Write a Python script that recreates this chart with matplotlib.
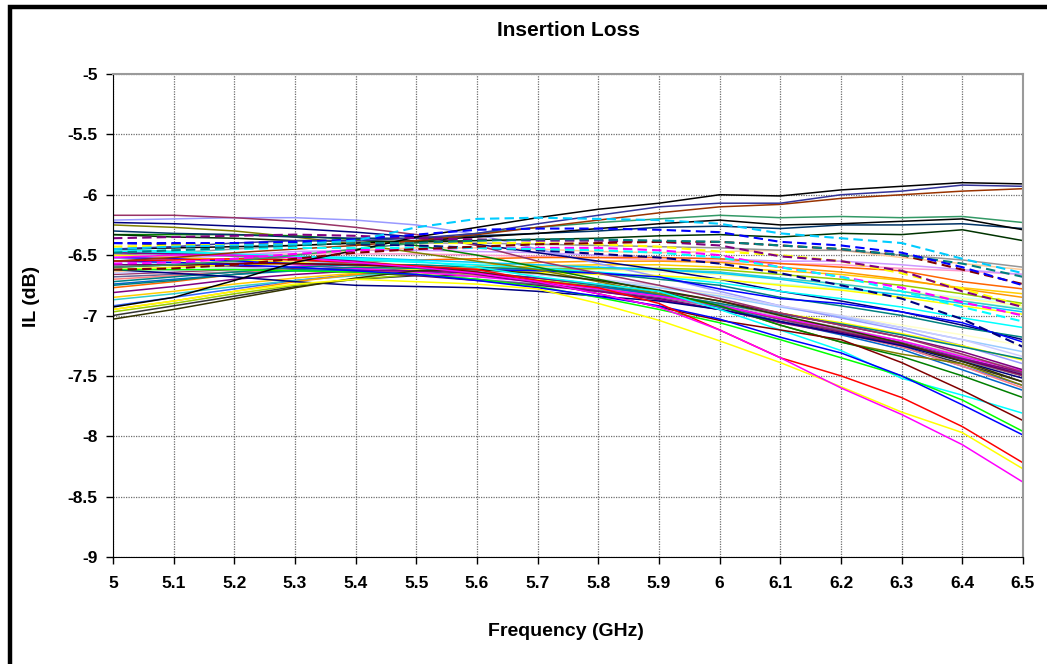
import matplotlib
matplotlib.use('Agg')
from matplotlib import pyplot as plt
from matplotlib.patches import Rectangle

# frequency points (GHz)
freq = [5.0, 5.1, 5.2, 5.3, 5.4, 5.5, 5.6, 5.7, 5.8, 5.9, 6.0, 6.1, 6.2, 6.3, 6.4, 6.5]
x_ticks = freq
x_labels = ['5', '5.1', '5.2', '5.3', '5.4', '5.5', '5.6', '5.7', '5.8', '5.9',
            '6', '6.1', '6.2', '6.3', '6.4', '6.5']
y_ticks = [-5, -5.5, -6, -6.5, -7, -7.5, -8, -8.5, -9]
y_labels = ['-5', '-5.5', '-6', '-6.5', '-7', '-7.5', '-8', '-8.5', '-9']

# insertion loss (dB) per measured part, read off the picture
# top, rising group
il_black_top = [-6.93, -6.85, -6.71, -6.56, -6.46, -6.35, -6.27, -6.19, -6.12, -6.07, -6.00, -6.01, -5.96, -5.93, -5.90, -5.91]
il_indigo = [-6.45, -6.43, -6.40, -6.38, -6.38, -6.36, -6.32, -6.24, -6.17, -6.10, -6.07, -6.07, -6.00, -5.97, -5.92, -5.93]
il_brown = [-6.55, -6.52, -6.48, -6.45, -6.42, -6.38, -6.33, -6.27, -6.21, -6.15, -6.10, -6.08, -6.03, -6.00, -5.97, -5.95]
# flat group
il_seagreen = [-6.60, -6.58, -6.55, -6.50, -6.45, -6.40, -6.32, -6.27, -6.23, -6.20, -6.17, -6.19, -6.18, -6.19, -6.18, -6.23]
il_darkteal = [-6.30, -6.32, -6.33, -6.35, -6.36, -6.36, -6.34, -6.32, -6.30, -6.27, -6.26, -6.28, -6.25, -6.25, -6.24, -6.28]
il_black_flat = [-6.45, -6.44, -6.43, -6.42, -6.40, -6.38, -6.35, -6.32, -6.28, -6.24, -6.21, -6.25, -6.24, -6.22, -6.20, -6.29]
il_darkgreen = [-6.33, -6.35, -6.36, -6.38, -6.38, -6.39, -6.38, -6.37, -6.36, -6.34, -6.33, -6.35, -6.32, -6.33, -6.29, -6.38]
# dashed group
il_cyan_dash = [-6.45, -6.43, -6.42, -6.41, -6.38, -6.27, -6.20, -6.19, -6.20, -6.21, -6.24, -6.32, -6.36, -6.40, -6.53, -6.65]
il_blue_dash = [-6.40, -6.40, -6.40, -6.39, -6.37, -6.33, -6.29, -6.28, -6.28, -6.29, -6.31, -6.39, -6.42, -6.48, -6.60, -6.75]
il_teal_dash = [-6.48, -6.46, -6.44, -6.42, -6.40, -6.40, -6.38, -6.37, -6.37, -6.38, -6.39, -6.42, -6.45, -6.50, -6.57, -6.68]
il_darkred_dash = [-6.62, -6.61, -6.58, -6.53, -6.48, -6.45, -6.43, -6.41, -6.40, -6.39, -6.39, -6.42, -6.45, -6.50, -6.62, -6.74]
il_purple_dash = [-6.36, -6.35, -6.34, -6.33, -6.34, -6.36, -6.37, -6.38, -6.38, -6.39, -6.42, -6.51, -6.55, -6.63, -6.80, -6.93]
il_magenta_dash = [-6.57, -6.56, -6.53, -6.49, -6.46, -6.45, -6.44, -6.44, -6.44, -6.46, -6.50, -6.60, -6.68, -6.77, -6.89, -7.00]
il_yellow_dash = [-6.43, -6.42, -6.41, -6.41, -6.40, -6.40, -6.40, -6.40, -6.41, -6.43, -6.47, -6.50, -6.55, -6.65, -6.78, -6.92]
il_navy_dash = [-6.40, -6.41, -6.41, -6.40, -6.41, -6.42, -6.44, -6.46, -6.49, -6.52, -6.57, -6.65, -6.75, -6.86, -7.03, -7.26]
il_sky_dash = [-6.47, -6.46, -6.45, -6.44, -6.44, -6.44, -6.44, -6.45, -6.46, -6.48, -6.52, -6.60, -6.68, -6.80, -6.93, -7.05]
# upper middle
il_gray40 = [-6.50, -6.48, -6.45, -6.42, -6.40, -6.40, -6.40, -6.41, -6.42, -6.43, -6.44, -6.46, -6.46, -6.50, -6.54, -6.60]
il_tan = [-6.64, -6.60, -6.55, -6.50, -6.46, -6.44, -6.44, -6.45, -6.47, -6.48, -6.47, -6.46, -6.46, -6.52, -6.57, -6.62]
il_lavender = [-6.55, -6.53, -6.50, -6.47, -6.46, -6.46, -6.47, -6.48, -6.50, -6.52, -6.53, -6.55, -6.55, -6.58, -6.62, -6.66]
il_rose = [-6.52, -6.51, -6.50, -6.49, -6.49, -6.49, -6.50, -6.51, -6.52, -6.54, -6.55, -6.57, -6.58, -6.61, -6.63, -6.66]
il_orange = [-6.77, -6.72, -6.66, -6.60, -6.56, -6.54, -6.53, -6.52, -6.52, -6.52, -6.53, -6.57, -6.60, -6.63, -6.72, -6.78]
il_lightorange = [-6.95, -6.88, -6.80, -6.72, -6.66, -6.62, -6.59, -6.56, -6.55, -6.55, -6.56, -6.60, -6.64, -6.70, -6.78, -6.85]
il_gold = [-6.85, -6.80, -6.74, -6.69, -6.65, -6.63, -6.61, -6.59, -6.58, -6.58, -6.60, -6.63, -6.66, -6.71, -6.77, -6.82]
il_lime = [-6.97, -6.90, -6.82, -6.75, -6.70, -6.66, -6.64, -6.62, -6.61, -6.61, -6.62, -6.66, -6.70, -6.75, -6.82, -6.90]
il_aqua = [-6.87, -6.82, -6.76, -6.71, -6.67, -6.64, -6.62, -6.61, -6.61, -6.62, -6.64, -6.69, -6.74, -6.80, -6.88, -6.95]
il_sky = [-6.48, -6.49, -6.50, -6.51, -6.52, -6.54, -6.56, -6.58, -6.60, -6.62, -6.65, -6.70, -6.77, -6.83, -6.90, -6.97]
il_lightyellow = [-6.55, -6.55, -6.56, -6.57, -6.58, -6.59, -6.60, -6.61, -6.62, -6.64, -6.66, -6.70, -6.74, -6.80, -6.86, -6.92]
il_lightgreen = [-6.60, -6.60, -6.60, -6.60, -6.61, -6.62, -6.63, -6.64, -6.66, -6.68, -6.71, -6.74, -6.78, -6.83, -6.88, -6.94]
il_lightturq = [-6.50, -6.50, -6.51, -6.52, -6.53, -6.55, -6.57, -6.59, -6.61, -6.63, -6.66, -6.70, -6.75, -6.80, -6.85, -6.90]
il_yellow_up = [-6.62, -6.60, -6.58, -6.57, -6.58, -6.60, -6.62, -6.64, -6.66, -6.67, -6.70, -6.75, -6.79, -6.85, -6.92, -6.99]
# middle bundle
il_teal = [-6.72, -6.68, -6.64, -6.60, -6.58, -6.58, -6.60, -6.62, -6.65, -6.70, -6.75, -6.85, -6.92, -7.00, -7.10, -7.18]
il_blue_mid = [-6.52, -6.53, -6.55, -6.57, -6.58, -6.60, -6.62, -6.63, -6.65, -6.68, -6.78, -6.86, -6.90, -6.97, -7.06, -7.22]
il_periwinkle = [-6.65, -6.63, -6.61, -6.60, -6.60, -6.61, -6.63, -6.66, -6.70, -6.75, -6.82, -6.92, -7.00, -7.10, -7.20, -7.34]
il_yellow_mid = [-6.50, -6.52, -6.54, -6.56, -6.59, -6.62, -6.66, -6.70, -6.75, -6.80, -6.88, -6.98, -7.06, -7.15, -7.25, -7.37]
il_violet = [-6.81, -6.76, -6.70, -6.66, -6.63, -6.63, -6.65, -6.69, -6.74, -6.80, -6.88, -6.98, -7.08, -7.18, -7.30, -7.45]
il_darkviolet = [-6.58, -6.58, -6.59, -6.61, -6.64, -6.67, -6.71, -6.75, -6.80, -6.86, -6.95, -7.05, -7.14, -7.24, -7.36, -7.49]
il_plum = [-6.17, -6.17, -6.19, -6.22, -6.27, -6.33, -6.42, -6.55, -6.65, -6.75, -6.86, -6.98, -7.08, -7.18, -7.32, -7.47]
il_lightblue = [-6.21, -6.20, -6.19, -6.19, -6.21, -6.25, -6.33, -6.45, -6.57, -6.68, -6.80, -6.92, -7.02, -7.12, -7.25, -7.40]
il_salmon = [-6.70, -6.67, -6.64, -6.62, -6.62, -6.64, -6.67, -6.71, -6.77, -6.84, -6.93, -7.05, -7.15, -7.26, -7.42, -7.60]
il_ocean = [-6.74, -6.70, -6.66, -6.63, -6.62, -6.63, -6.66, -6.70, -6.76, -6.83, -6.93, -7.05, -7.16, -7.28, -7.45, -7.62]
il_gray50 = [-6.47, -6.49, -6.51, -6.54, -6.57, -6.61, -6.66, -6.71, -6.77, -6.84, -6.92, -7.03, -7.13, -7.24, -7.37, -7.50]
il_silver = [-6.46, -6.47, -6.49, -6.52, -6.55, -6.59, -6.64, -6.69, -6.75, -6.82, -6.90, -7.01, -7.10, -7.21, -7.33, -7.45]
il_royal = [-6.92, -6.85, -6.78, -6.71, -6.66, -6.64, -6.65, -6.69, -6.75, -6.82, -6.91, -7.03, -7.14, -7.26, -7.42, -7.58]
il_olive = [-6.25, -6.27, -6.30, -6.35, -6.41, -6.48, -6.55, -6.62, -6.72, -6.82, -6.92, -7.08, -7.22, -7.32, -7.40, -7.58]
il_green = [-6.33, -6.33, -6.33, -6.34, -6.37, -6.42, -6.50, -6.60, -6.70, -6.80, -6.92, -7.08, -7.22, -7.34, -7.50, -7.68]
il_navy = [-6.62, -6.65, -6.68, -6.72, -6.75, -6.76, -6.77, -6.80, -6.84, -6.88, -6.95, -7.05, -7.15, -7.25, -7.38, -7.52]
il_bluegray = [-6.68, -6.66, -6.64, -6.63, -6.64, -6.66, -6.70, -6.74, -6.79, -6.85, -6.93, -7.03, -7.12, -7.22, -7.35, -7.48]
il_paleblue = [-6.58, -6.57, -6.56, -6.56, -6.57, -6.59, -6.62, -6.66, -6.71, -6.77, -6.84, -6.93, -7.01, -7.10, -7.20, -7.30]
il_gray80 = [-7.00, -6.92, -6.84, -6.76, -6.70, -6.67, -6.67, -6.70, -6.75, -6.82, -6.91, -7.03, -7.14, -7.26, -7.40, -7.55]
il_ivory = [-6.50, -6.50, -6.51, -6.53, -6.55, -6.58, -6.61, -6.65, -6.70, -6.76, -6.83, -6.92, -7.00, -7.08, -7.16, -7.25]
il_plum2 = [-6.66, -6.64, -6.62, -6.61, -6.61, -6.62, -6.65, -6.70, -6.76, -6.83, -6.92, -7.03, -7.13, -7.23, -7.36, -7.50]
il_violet2 = [-6.48, -6.49, -6.50, -6.52, -6.55, -6.60, -6.66, -6.73, -6.80, -6.87, -6.95, -7.06, -7.15, -7.24, -7.36, -7.47]
il_teal2 = [-6.75, -6.71, -6.66, -6.62, -6.60, -6.61, -6.64, -6.69, -6.75, -6.82, -6.90, -6.99, -7.07, -7.16, -7.26, -7.36]
il_navy2 = [-6.23, -6.24, -6.26, -6.28, -6.31, -6.35, -6.41, -6.48, -6.55, -6.62, -6.70, -6.80, -6.88, -6.97, -7.08, -7.20]
il_cyan2 = [-6.47, -6.48, -6.50, -6.52, -6.54, -6.56, -6.58, -6.61, -6.64, -6.68, -6.73, -6.80, -6.86, -6.93, -7.02, -7.10]
il_magenta2 = [-6.50, -6.52, -6.55, -6.58, -6.61, -6.64, -6.68, -6.72, -6.78, -6.84, -6.92, -7.02, -7.11, -7.21, -7.34, -7.46]
il_darkolive = [-7.03, -6.95, -6.86, -6.77, -6.69, -6.63, -6.62, -6.65, -6.71, -6.79, -6.88, -7.00, -7.11, -7.23, -7.38, -7.55]
# lowest group
il_cyan = [-6.45, -6.47, -6.49, -6.51, -6.53, -6.55, -6.60, -6.68, -6.74, -6.80, -6.95, -7.12, -7.29, -7.52, -7.66, -7.81]
il_darkred = [-6.60, -6.58, -6.57, -6.57, -6.58, -6.60, -6.64, -6.72, -6.82, -6.93, -7.04, -7.12, -7.20, -7.39, -7.62, -7.87]
il_brightgreen = [-6.62, -6.62, -6.62, -6.63, -6.64, -6.66, -6.70, -6.76, -6.85, -6.95, -7.06, -7.20, -7.35, -7.50, -7.70, -7.96]
il_blue_low = [-6.55, -6.56, -6.58, -6.60, -6.63, -6.66, -6.71, -6.77, -6.84, -6.92, -7.03, -7.18, -7.31, -7.50, -7.74, -7.99]
il_red = [-6.55, -6.54, -6.53, -6.54, -6.56, -6.59, -6.62, -6.71, -6.77, -6.90, -7.12, -7.35, -7.50, -7.68, -7.92, -8.22]
il_yellow_low = [-6.95, -6.88, -6.80, -6.74, -6.70, -6.72, -6.74, -6.78, -6.90, -7.04, -7.21, -7.39, -7.59, -7.80, -7.97, -8.27]
il_magenta_low = [-6.52, -6.50, -6.50, -6.52, -6.56, -6.60, -6.65, -6.72, -6.82, -6.93, -7.12, -7.35, -7.60, -7.82, -8.07, -8.38]

# (values, colour, dashed?)
series = [
    (il_gray80, '#333333', False), (il_ivory, '#FFFFCC', False), (il_lightturq, '#CCFFFF', False),
    (il_lightgreen, '#CCFFCC', False), (il_lightyellow, '#FFFF99', False), (il_paleblue, '#99CCFF', False),
    (il_rose, '#FF99CC', False), (il_lavender, '#CC99FF', False), (il_tan, '#FFCC99', False),
    (il_royal, '#3366FF', False), (il_aqua, '#33CCCC', False), (il_lime, '#99CC00', False),
    (il_gold, '#FFCC00', False), (il_lightorange, '#FF9900', False), (il_orange, '#FF6600', False),
    (il_bluegray, '#666699', False), (il_gray40, '#969696', False), (il_silver, '#C0C0C0', False),
    (il_gray50, '#808080', False), (il_lightblue, '#9999FF', False), (il_plum2, '#993366', False),
    (il_darkviolet, '#660066', False), (il_salmon, '#FF8080', False), (il_ocean, '#0066CC', False),
    (il_periwinkle, '#CCCCFF', False), (il_sky, '#00CCFF', False), (il_navy2, '#000080', False),
    (il_magenta2, '#FF00FF', False), (il_yellow_mid, '#FFFF00', False), (il_cyan2, '#00FFFF', False),
    (il_violet2, '#800080', False), (il_teal2, '#008080', False), (il_yellow_up, '#FFFF00', False),
    (il_teal, '#008080', False), (il_blue_mid, '#0000FF', False), (il_violet, '#800080', False),
    (il_olive, '#808000', False), (il_green, '#008000', False), (il_navy, '#000080', False),
    (il_darkolive, '#333300', False), (il_plum, '#993366', False),
    (il_cyan, '#00FFFF', False), (il_darkred, '#800000', False), (il_brightgreen, '#00FF00', False),
    (il_blue_low, '#0000FF', False), (il_red, '#FF0000', False), (il_yellow_low, '#FFFF00', False),
    (il_magenta_low, '#FF00FF', False),
    (il_seagreen, '#339966', False), (il_darkteal, '#003366', False), (il_black_flat, '#000000', False),
    (il_darkgreen, '#003300', False), (il_brown, '#993300', False), (il_indigo, '#333399', False),
    (il_black_top, '#000000', False),
    (il_navy_dash, '#000080', True), (il_magenta_dash, '#FF00FF', True), (il_yellow_dash, '#FFFF00', True),
    (il_sky_dash, '#00FFFF', True), (il_purple_dash, '#800080', True), (il_darkred_dash, '#800000', True),
    (il_teal_dash, '#008080', True), (il_blue_dash, '#0000FF', True), (il_cyan_dash, '#00CCFF', True),
]

plt.rcParams['font.family'] = ['Liberation Sans', 'DejaVu Sans']

fig = plt.figure(figsize=(10.47, 6.64), dpi=100)
ax = fig.add_axes([113 / 1047., 1 - 557 / 664., (1023 - 113) / 1047., (557 - 74) / 664.])

for vals, col, dashed in series:
    if dashed:
        ax.plot(freq, vals, color=col, lw=1.5, linestyle=(0, (4.5, 2.5)))
    else:
        ax.plot(freq, vals, color=col, lw=1.1)

ax.set_xlim(5.0, 6.5)
ax.set_ylim(-9, -5)
ax.set_xticks(x_ticks)
ax.set_xticklabels(x_labels)
ax.set_yticks(y_ticks)
ax.set_yticklabels(y_labels)
ax.tick_params(axis='both', which='major', direction='out', length=5, width=1,
               labelsize=12.5, color='black')
ax.tick_params(axis='x', pad=9)
ax.tick_params(axis='y', pad=6)
for lab in ax.get_xticklabels() + ax.get_yticklabels():
    lab.set_fontweight('bold')

ax.grid(True, color='#6e6e6e', linestyle=(0, (1, 1)), linewidth=0.9)
ax.set_axisbelow(True)

# plot area frame: grey top/right, black axes
ax.spines['top'].set_color('#9a9a9a')
ax.spines['right'].set_color('#9a9a9a')
ax.spines['top'].set_linewidth(1.5)
ax.spines['right'].set_linewidth(1.5)
ax.spines['left'].set_color('black')
ax.spines['bottom'].set_color('black')

# titles placed where they sit in the picture
fig.text(566 / 1047., 1 - 632 / 664., 'Frequency (GHz)', ha='center', va='center',
         fontsize=14, fontweight='bold')
fig.text(31 / 1047., 1 - 296 / 664., 'IL (dB)', ha='center', va='center',
         rotation=90, fontsize=14, fontweight='bold')
fig.text(568 / 1047., 1 - 31 / 664., 'Insertion Loss', ha='center', va='center',
         fontsize=15, fontweight='bold')

# chart area border (only top and left show in the picture)
fig.patches.append(Rectangle((10 / 1047., -0.2), 1.2, 1.2 - 7 / 664.,
                             transform=fig.transFigure, fill=False,
                             edgecolor='black', linewidth=3.2, clip_on=False))

fig.savefig('out.png', dpi=100)
